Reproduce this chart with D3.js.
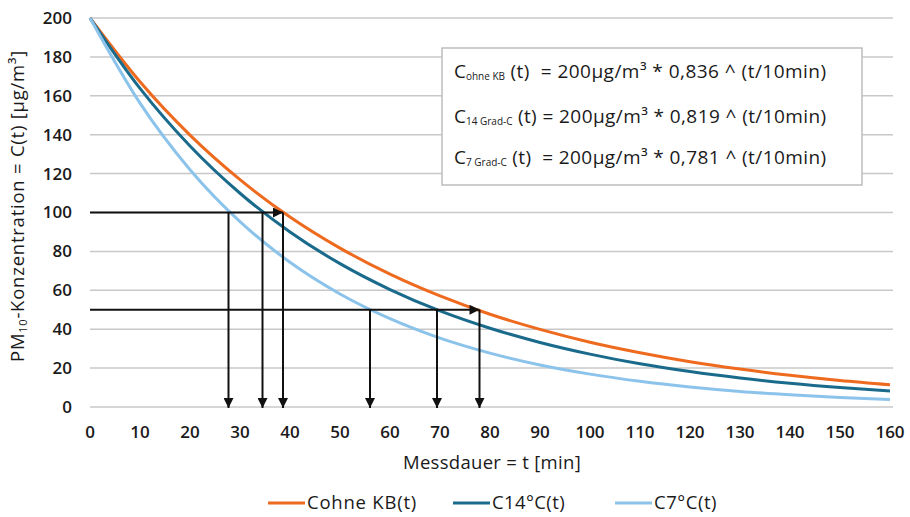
<!DOCTYPE html>
<html><head><meta charset="utf-8">
<script src="https://cdn.jsdelivr.net/npm/d3@7"></script>
<style>
body{margin:0;background:#fff;}
svg{font-family:"Open Sans",sans-serif;}
</style></head>
<body><svg id="c" width="910" height="517"></svg>
<script>
const tValues = [0,10,20,30,40,50,60,70,80,90,100,110,120,130,140,150,160];
const cOhne = [200,167.2,139.8,116.9,97.7,81.7,68.3,57.1,47.7,39.9,33.3,27.9,23.3,19.5,16.3,13.6,11.4];
const c14 = [200,163.8,134.2,109.9,90.0,73.7,60.4,49.4,40.5,33.2,27.2,22.2,18.2,14.9,12.2,10.0,8.2];
const c7 = [200,156.2,122.0,95.3,74.4,58.1,45.4,35.4,27.7,21.6,16.9,13.2,10.3,8.0,6.3,4.9,3.8];
const seriesNames = ["Cohne KB(t)","C14°C(t)","C7°C(t)"];
const seriesColors = ["#ee6a1f","#1a6a8c","#8cc3eb"];
const xTicks = [0,10,20,30,40,50,60,70,80,90,100,110,120,130,140,150,160];
const yTicks = [0,20,40,60,80,100,120,140,160,180,200];
// half-life arrows
const arrowLevels = [100, 50];
const arrows100 = [27.7, 34.5, 38.6];
const arrows50 = [56.0, 69.4, 77.9];

const svg = d3.select("#c");
const x = d3.scaleLinear().domain([0,160]).range([90,890]);
const y = d3.scaleLinear().domain([0,200]).range([407,18]);

function fit(sel, target){
  const n = sel.text().length;
  const L = sel.node().getComputedTextLength();
  sel.attr("letter-spacing", ((target - L)/n).toFixed(3));
}

// gridlines
svg.append("g").selectAll("line").data(yTicks).join("line")
  .attr("x1",x(0)).attr("x2",x(160)+3).attr("y1",d=>y(d)).attr("y2",d=>y(d))
  .attr("stroke","#c8c8c8").attr("stroke-width",1.5);

// y tick labels
svg.append("g").selectAll("text").data(yTicks).join("text")
  .attr("x",72).attr("y",d=>y(d)).attr("dy","0.35em").attr("text-anchor","end")
  .attr("font-size",17).attr("font-weight",600).attr("fill","#1a1a1a").text(d=>d);
// x tick labels
svg.append("g").selectAll("text").data(xTicks).join("text")
  .attr("x",d=>x(d)).attr("y",432).attr("dy","0.35em").attr("text-anchor","middle")
  .attr("font-size",17).attr("font-weight",600).attr("fill","#1a1a1a").text(d=>d);

// axis titles
const xt = svg.append("text").attr("x",403).attr("y",469)
  .attr("font-size",18.5).attr("fill","#1a1a1a").text("Messdauer = t [min]");
fit(xt, 178);
const yt = svg.append("text").attr("transform","translate(24,362) rotate(-90)")
  .attr("font-size",18.5).attr("fill","#1a1a1a");
yt.append("tspan").text("PM");
yt.append("tspan").attr("font-size",11).attr("dy",3).text("10");
yt.append("tspan").attr("dy",-3).text("-Konzentration = C(t) [µg/m³]");
{
  const L = yt.node().getComputedTextLength();
  const n = yt.text().length;
  yt.attr("letter-spacing", ((312 - L)/n).toFixed(3));
}

// curves
const line = d3.line().x((d,i)=>x(tValues[i])).y(d=>y(d)).curve(d3.curveMonotoneX);
[cOhne,c14,c7].forEach((s,k)=>{
  svg.append("path").datum(s).attr("d",line).attr("fill","none")
    .attr("stroke",seriesColors[k]).attr("stroke-width",3);
});

// arrows
const defs = svg.append("defs");
defs.append("marker").attr("id","ah").attr("viewBox","0 0 10 10").attr("refX",10).attr("refY",5)
  .attr("markerWidth",11).attr("markerHeight",10).attr("markerUnits","userSpaceOnUse").attr("orient","auto")
  .append("path").attr("d","M0,0L10,5L0,10Z").attr("fill","#111");
const ag = svg.append("g").attr("stroke","#111").attr("stroke-width",2).attr("fill","none");
[arrows100, arrows50].forEach((arr,k)=>{
  const lvl = arrowLevels[k];
  const maxT = d3.max(arr);
  ag.append("line").attr("x1",x(0)).attr("x2",x(maxT)).attr("y1",y(lvl)).attr("y2",y(lvl)).attr("marker-end","url(#ah)");
  arr.forEach(t=>{
    ag.append("line").attr("x1",x(t)).attr("x2",x(t)).attr("y1",y(lvl)).attr("y2",y(0)+1).attr("marker-end","url(#ah)");
  });
});

// formula box
const bx = svg.append("g");
bx.append("rect").attr("x",442).attr("y",48).attr("width",420).attr("height",137)
  .attr("fill","#fff").attr("stroke","#bdbdbd").attr("stroke-width",1.5);
const formulas = [
  {sub:"ohne KB", rest:" (t)  = 200µg/m³ * 0,836 ^ (t/10min)"},
  {sub:"14 Grad-C", rest:" (t) = 200µg/m³ * 0,819 ^ (t/10min)"},
  {sub:"7 Grad-C", rest:" (t)  = 200µg/m³ * 0,781 ^ (t/10min)"}
];
const fy = [78,123,164];
formulas.forEach((f,i)=>{
  const t = bx.append("text").attr("x",454).attr("y",fy[i]).attr("font-size",19)
    .attr("font-weight",500).attr("fill","#1a1a1a").attr("xml:space","preserve");
  t.append("tspan").text("C");
  t.append("tspan").attr("font-size",10).attr("dy",2).text(f.sub);
  const r = t.append("tspan").attr("dy",-2).text(f.rest);
  const L = t.node().getComputedTextLength();
  const n = f.rest.length + 1;
  r.attr("letter-spacing", ((373 - L)/n).toFixed(3));
});

// legend
const legX = [268,453,615];
const legEnd = [417,565,717];
const lg = svg.append("g");
seriesNames.forEach((n,i)=>{
  lg.append("line").attr("x1",legX[i]).attr("x2",legX[i]+37).attr("y1",503).attr("y2",503)
    .attr("stroke",seriesColors[i]).attr("stroke-width",3);
  const t = lg.append("text").attr("x",legX[i]+39).attr("y",503).attr("dy","0.35em").attr("font-size",18.5)
    .attr("fill","#1a1a1a").text(n);
  fit(t, legEnd[i] - legX[i] - 39);
});
</script></body></html>
